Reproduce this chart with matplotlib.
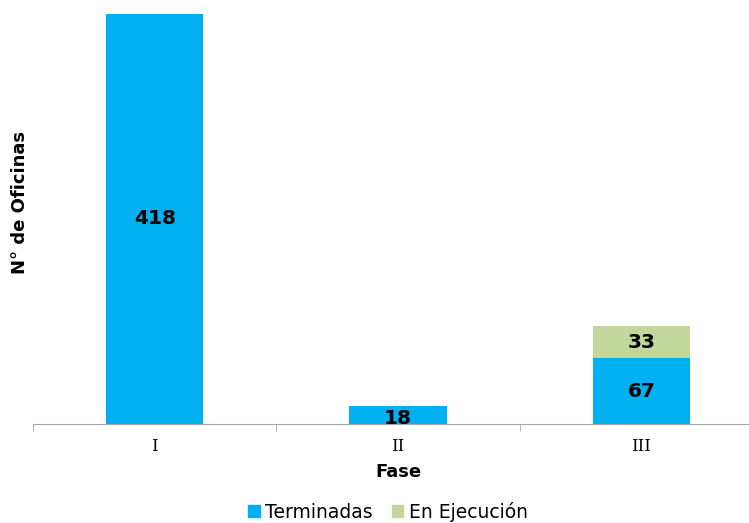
import matplotlib.pyplot as plt
from matplotlib.patches import Patch

# Oficinas por fase
fases       = ["I", "II", "III"]
terminadas  = [418, 18, 67]
ejecucion   = [0, 0, 33]

BLUE  = "#00B0F0"
GREEN = "#C3D69B"
GREY  = "#A6A6A6"

fig = plt.figure(figsize=(7.49, 5.23), dpi=100)
ax = fig.add_axes([33 / 749, 99 / 523, 730 / 749, 410 / 523])

x = list(range(len(fases)))
ax.bar(x, terminadas, width=0.4, color=BLUE)
ax.bar(x, ejecucion, width=0.4, bottom=terminadas, color=GREEN)

# value labels
for i, v in enumerate(terminadas):
    ypos = v / 2 if v > 40 else v / 2 - 3
    ax.text(i, ypos, str(v), ha="center", va="center",
            fontsize=14.5, fontweight="bold", family="DejaVu Sans")
for i, v in enumerate(ejecucion):
    if v:
        ax.text(i, terminadas[i] + v / 2, str(v), ha="center", va="center",
                fontsize=14.5, fontweight="bold", family="DejaVu Sans")

ax.set_xlim(-0.5, len(fases) - 0.5)
ax.set_ylim(0, 418)

for s in ["top", "right", "left"]:
    ax.spines[s].set_visible(False)
ax.spines["bottom"].set_color(GREY)
ax.set_yticks([])

ax.set_xticks(x)
ax.set_xticklabels(fases, family="DejaVu Serif", fontsize=12)
ax.set_xticks([-0.5, 0.5, 1.5, 2.5], minor=True)
ax.tick_params(axis="x", which="major", length=0, pad=10)
ax.tick_params(axis="x", which="minor", length=5, color=GREY, direction="out")

ax.set_xlabel("Fase", fontsize=13, fontweight="bold", labelpad=6)
fig.text(20 / 749, 1 - 202 / 523, "N° de Oficinas", rotation=90,
         ha="center", va="center", fontsize=13, fontweight="bold")

handles = [Patch(color=BLUE, label="Terminadas"),
           Patch(color=GREEN, label="En Ejecución")]
fig.legend(handles=handles, loc="center", bbox_to_anchor=(388 / 749, 1 - 512 / 523),
           ncol=2, frameon=False, fontsize=13.5, handlelength=0.6, handleheight=0.6,
           handletextpad=0.3, columnspacing=1.0)

plt.savefig("out.png", dpi=100)
plt.close()
